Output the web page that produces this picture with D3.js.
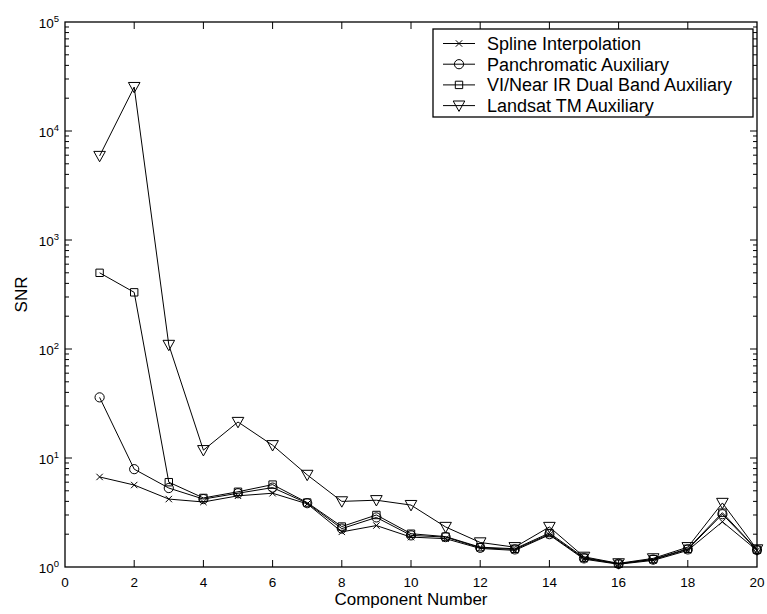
<!DOCTYPE html>
<html>
<head>
<meta charset="utf-8">
<script src="https://cdn.jsdelivr.net/npm/d3@7"></script>
<style>
  html, body { margin: 0; padding: 0; background: #fff; }
  svg { display: block; }
  text { font-family: "Liberation Sans", Arial, Helvetica, sans-serif; fill: #000; }
</style>
</head>
<body>
<svg id="chart" width="767" height="614"></svg>
<script>
// Component numbers along the x axis
const components = [1, 2, 3, 4, 5, 6, 7, 8, 9, 10, 11, 12, 13, 14, 15, 16, 17, 18, 19, 20];

// SNR per component for each reconstruction method
const splineSNR   = [6.7, 5.65, 4.2, 3.95, 4.5, 4.75, 3.8, 2.1, 2.4, 1.88, 1.82, 1.48, 1.42, 1.97, 1.18, 1.06, 1.15, 1.42, 2.6, 1.42];
const panSNR      = [36, 7.9, 5.3, 4.2, 4.75, 5.35, 3.85, 2.25, 2.85, 1.95, 1.88, 1.5, 1.45, 2.0, 1.2, 1.07, 1.17, 1.45, 3.05, 1.43];
const dualBandSNR = [500, 331, 6.0, 4.3, 4.9, 5.7, 3.9, 2.35, 3.0, 2.02, 1.9, 1.52, 1.47, 2.05, 1.22, 1.07, 1.18, 1.47, 3.15, 1.44];
const landsatSNR  = [5900, 25300, 109, 11.8, 21.4, 13.1, 7.0, 4.0, 4.1, 3.7, 2.33, 1.68, 1.52, 2.33, 1.24, 1.08, 1.2, 1.52, 3.87, 1.45];

const seriesNames = ["Spline Interpolation", "Panchromatic Auxiliary", "VI/Near IR Dual Band Auxiliary", "Landsat TM Auxiliary"];
const seriesMarkers = ["x", "circle", "square", "triangle"];

// Axis ticks
const xTicks = [0, 2, 4, 6, 8, 10, 12, 14, 16, 18, 20];
const yExponents = [0, 1, 2, 3, 4, 5];

const series = [splineSNR, panSNR, dualBandSNR, landsatSNR].map((vals, i) => ({
  name: seriesNames[i],
  marker: seriesMarkers[i],
  values: vals
}));

const svg = d3.select("#chart");
const plot = { left: 65, right: 757, top: 22, bottom: 567 };

const x = d3.scaleLinear().domain([0, 20]).range([plot.left, plot.right]);
const y = d3.scaleLog().domain([1, 1e5]).range([plot.bottom, plot.top]);

// Marker shapes, drawn unfilled
function markerPath(type) {
  switch (type) {
    case "x": return "M-3.2,-3.2L3.2,3.2M-3.2,3.2L3.2,-3.2";
    case "circle": return "M4.6,0A4.6,4.6 0 1,1 -4.6,0A4.6,4.6 0 1,1 4.6,0Z";
    case "square": return "M-3.7,-3.7H3.7V3.7H-3.7Z";
    case "triangle": return "M-5.8,-4.6H5.8L0,5.8Z";
  }
}

// Plot frame
svg.append("rect")
  .attr("x", plot.left).attr("y", plot.top)
  .attr("width", plot.right - plot.left).attr("height", plot.bottom - plot.top)
  .attr("fill", "none").attr("stroke", "#000").attr("stroke-width", 1.3);

const tickG = svg.append("g").attr("stroke", "#000").attr("stroke-width", 1);

// x ticks on bottom and top edges
xTicks.forEach(t => {
  if (t === 0 || t === 20) return;
  tickG.append("line").attr("x1", x(t)).attr("x2", x(t)).attr("y1", plot.bottom).attr("y2", plot.bottom - 7);
  tickG.append("line").attr("x1", x(t)).attr("x2", x(t)).attr("y1", plot.top).attr("y2", plot.top + 7);
});

// y ticks: decades and minor ticks on both sides
yExponents.forEach(e => {
  const major = Math.pow(10, e);
  if (e > 0 && e < 5) {
    tickG.append("line").attr("x1", plot.left).attr("x2", plot.left + 7).attr("y1", y(major)).attr("y2", y(major));
    tickG.append("line").attr("x1", plot.right).attr("x2", plot.right - 7).attr("y1", y(major)).attr("y2", y(major));
  }
  if (e < 5) {
    for (let m = 2; m <= 9; m++) {
      const v = m * major;
      tickG.append("line").attr("x1", plot.left).attr("x2", plot.left + 4).attr("y1", y(v)).attr("y2", y(v));
      tickG.append("line").attr("x1", plot.right).attr("x2", plot.right - 4).attr("y1", y(v)).attr("y2", y(v));
    }
  }
});

// x tick labels
svg.append("g").selectAll("text").data(xTicks).join("text")
  .attr("x", d => x(d)).attr("y", plot.bottom + 20)
  .attr("text-anchor", "middle").attr("font-size", 13.5)
  .text(d => d);

// y tick labels as powers of ten
const yLab = svg.append("g").selectAll("text").data(yExponents).join("text")
  .attr("x", plot.left - 6).attr("y", d => y(Math.pow(10, d)) + 5.5)
  .attr("text-anchor", "end").attr("font-size", 13.5);
yLab.append("tspan").text("10");
yLab.append("tspan").attr("dy", -6).attr("font-size", 9.5).text(d => d);

// Axis titles
svg.append("text")
  .attr("x", (plot.left + plot.right) / 2).attr("y", 605)
  .attr("text-anchor", "middle").attr("font-size", 17)
  .text("Component Number");
svg.append("text")
  .attr("transform", `translate(27,${(plot.top + plot.bottom) / 2}) rotate(-90)`)
  .attr("text-anchor", "middle").attr("font-size", 17)
  .text("SNR");

// Series lines and markers
const line = d3.line().x((d, i) => x(components[i])).y(d => y(d));
const dataG = svg.append("g");
series.forEach(s => {
  const g = dataG.append("g");
  g.append("path").attr("d", line(s.values))
    .attr("fill", "none").attr("stroke", "#000").attr("stroke-width", 1);
  g.selectAll("path.mk").data(s.values).join("path").attr("class", "mk")
    .attr("transform", (d, i) => `translate(${x(components[i])},${y(d)})`)
    .attr("d", markerPath(s.marker))
    .attr("fill", "none").attr("stroke", "#000").attr("stroke-width", 1);
});

// Legend
const legend = svg.append("g");
legend.append("rect")
  .attr("x", 433).attr("y", 29).attr("width", 320).attr("height", 88)
  .attr("fill", "#fff").attr("stroke", "#000").attr("stroke-width", 1.3);
series.forEach((s, i) => {
  const cy = 43.5 + i * 20.7;
  legend.append("line").attr("x1", 443).attr("x2", 475).attr("y1", cy).attr("y2", cy)
    .attr("stroke", "#000").attr("stroke-width", 1);
  legend.append("path").attr("transform", `translate(459,${cy})`)
    .attr("d", markerPath(s.marker)).attr("fill", "none").attr("stroke", "#000").attr("stroke-width", 1);
  legend.append("text").attr("x", 487).attr("y", cy + 6.3).attr("font-size", 18).text(s.name);
});
</script>
</body>
</html>
